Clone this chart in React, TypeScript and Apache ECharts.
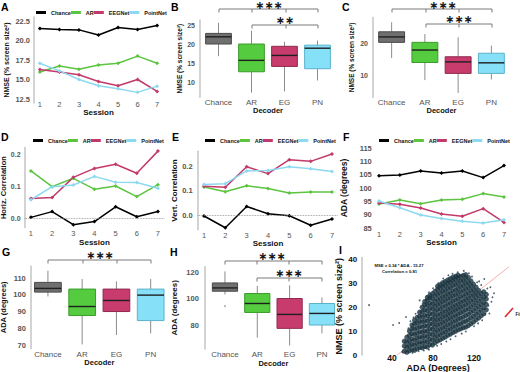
import React, { useEffect, useRef } from 'react';
import * as echarts from 'echarts';

const FF = '"Liberation Sans", Arial, sans-serif';

const sessions = [1, 2, 3, 4, 5, 6, 7];
const methodNames = ['Chance', 'AR', 'EEGNet', 'PointNet'];
const lineColors = ['#000000', '#5cc43f', '#c23a6a', '#8dd9f2'];

const nmseChance = [21.54, 21.4, 21.36, 20.7, 21.67, 21.4, 21.93];
const nmseAR = [15.97, 16.74, 16.31, 16.86, 17.08, 18.0, 17.08];
const nmseEEG = [16.27, 15.97, 15.6, 14.75, 14.2, 15.0, 13.47];
const nmsePN = [17.08, 16.1, 15.0, 14.2, 13.8, 13.35, 14.15];

const hcorrChance = [0.002, 0.02, -0.021, -0.011, 0.035, 0.004, 0.02];
const hcorrAR = [0.147, 0.098, 0.124, 0.09, 0.1, 0.067, 0.104];
const hcorrEEG = [0.061, 0.064, 0.127, 0.155, 0.168, 0.14, 0.209];
const hcorrPN = [0.057, 0.098, 0.103, 0.13, 0.112, 0.111, 0.093];

const vcorrChance = [-0.004, -0.052, 0.035, 0.005, -0.003, -0.042, -0.016];
const vcorrAR = [0.114, 0.095, 0.119, 0.108, 0.09, 0.094, 0.094];
const vcorrEEG = [0.117, 0.113, 0.197, 0.169, 0.226, 0.219, 0.249];
const vcorrPN = [0.124, 0.128, 0.18, 0.182, 0.197, 0.189, 0.178];

const adaChance = [104.6, 104.9, 106.4, 105.6, 106.4, 103.9, 108.4];
const adaAR = [94.0, 95.5, 94.1, 95.5, 95.75, 97.9, 96.6];
const adaEEG = [94.4, 93.9, 92.5, 90.25, 89.4, 92.25, 87.1];
const adaPN = [95.1, 92.6, 89.9, 88.6, 87.5, 86.9, 88.1];

const decoders = ['Chance', 'AR', 'EG', 'PN'];
const boxColors = ['#6f6f6f', '#55cc3f', '#c73c6d', '#86e0f8'];
const boxBorders = ['#4a4a4a', '#3b9b2c', '#8f2a4f', '#5bb2ca'];

// [min, q1, median, q3, max]
const boxB = [[16.8, 20, 21.9, 22.8, 25.6], [7.2, 12.7, 15.7, 20, 23.5], [7.5, 14.1, 17, 19.4, 20.6], [10.4, 13.5, 18.9, 19.7, 20.9]];
const boxC = [[15.3, 20.2, 21.9, 23.5, 26.5], [8.4, 13.9, 17.8, 20.2, 22.8], [4.4, 10.5, 14.1, 15.7, 21.8], [8.6, 10.5, 13.8, 16.8, 19.2]];
const boxG = [[99, 101.6, 103.8, 107.4, 114.4], [70.4, 87.6, 93, 103.4, 109.4], [76, 90, 96.6, 103.4, 108], [77, 84.6, 99.8, 103.4, 109.4]];
const boxH = [[103, 105.5, 108, 111.75, 120.5], [70.5, 89.5, 96.25, 103.75, 109.5], [64.5, 77.5, 88, 100, 110], [73.75, 80, 88.75, 96.25, 100.75]];
const outliersH = [[0, 94.3]];

// Panel I: ADA vs NMSE cloud, rows of [ADA, NMSE values]
const cloudRows: [number, number[]][] = [
  [52, [1.6, 3.8, 5.8]],
  [54.5, [1.2, 3.3, 5.4, 7.5]],
  [57, [1.8, 3.9, 6.0, 8.2, 10.1]],
  [59.5, [2.3, 4.5, 6.7, 8.9, 11.0, 12.6]],
  [62, [2.0, 4.1, 6.3, 8.6, 10.8, 13.0, 14.6]],
  [64.5, [2.6, 4.8, 7.0, 9.2, 11.4, 13.6, 15.8]],
  [67, [3.2, 5.4, 7.6, 9.8, 12.0, 14.2, 16.3, 18.0]],
  [69.5, [3.0, 5.1, 7.3, 9.5, 11.7, 13.9, 16.0, 18.2, 20.1]],
  [72, [3.6, 5.8, 8.0, 10.2, 12.4, 14.5, 16.7, 18.9, 21.0, 22.5]],
  [74.5, [3.4, 5.5, 7.7, 9.9, 12.1, 14.3, 16.4, 18.6, 20.8, 22.9, 24.2]],
  [77, [4.4, 6.6, 8.8, 11.0, 13.2, 15.3, 17.5, 19.7, 21.8, 24.0, 25.2]],
  [79.5, [4.2, 6.3, 8.5, 10.7, 12.9, 15.0, 17.2, 19.4, 21.5, 23.7, 25.8]],
  [82, [5.2, 7.4, 9.6, 11.8, 14.0, 16.1, 18.3, 20.5, 22.6, 24.8, 26.8]],
  [84.5, [5.9, 8.1, 10.3, 12.5, 14.7, 16.8, 19.0, 21.2, 23.3, 25.5, 27.6, 28.9]],
  [87, [6.4, 8.6, 10.8, 13.0, 15.2, 17.3, 19.5, 21.7, 23.8, 26.0, 28.1, 29.6]],
  [89.5, [7.1, 9.3, 11.5, 13.7, 15.9, 18.0, 20.2, 22.4, 24.5, 26.7, 28.8, 30.4]],
  [92, [7.6, 9.8, 12.0, 14.2, 16.4, 18.5, 20.7, 22.9, 25.0, 27.2, 29.3, 30.9]],
  [94.5, [8.3, 10.5, 12.7, 14.9, 17.1, 19.2, 21.4, 23.6, 25.7, 27.9, 30.0, 31.6]],
  [97, [8.8, 11.0, 13.2, 15.4, 17.6, 19.7, 21.9, 24.1, 26.2, 28.4, 30.5, 32.1]],
  [99.5, [9.5, 11.7, 13.9, 16.1, 18.3, 20.4, 22.6, 24.8, 26.9, 29.1, 31.2, 32.7]],
  [102, [10.0, 12.2, 14.4, 16.6, 18.8, 20.9, 23.1, 25.3, 27.4, 29.6, 31.7, 33.1]],
  [104.5, [10.6, 12.8, 15.0, 17.2, 19.4, 21.5, 23.7, 25.9, 28.0, 30.2, 32.3, 33.6]],
  [107, [11.0, 13.2, 15.5, 17.8, 20.0, 22.2, 24.4, 26.6, 28.8, 31.0, 33.0]],
  [109.5, [11.5, 13.8, 16.0, 18.3, 20.5, 22.7, 24.9, 27.1, 29.3, 31.4, 33.5]],
  [112, [11.8, 14.2, 16.6, 18.9, 21.2, 23.4, 25.6, 27.8, 30.0, 32.1, 33.8]],
  [114.5, [12.4, 14.8, 17.2, 19.5, 21.8, 24.0, 26.2, 28.4, 30.5, 32.6]],
  [117, [13.2, 15.6, 18.0, 20.3, 22.6, 24.8, 27.0, 29.1, 31.2]],
  [119.5, [13.9, 16.3, 18.7, 21.0, 23.3, 25.5, 27.6, 29.8]],
  [122, [14.8, 17.2, 19.6, 21.9, 24.2, 26.3, 28.5]],
  [124.5, [15.6, 18.0, 20.4, 22.7, 25.0, 27.2]],
  [127, [16.5, 18.9, 21.3, 23.6, 25.8]],
  [129.5, [17.4, 19.8, 22.1, 24.4, 26.6]],
  [132, [19.0, 21.3, 23.6, 25.5]],
];
const sparsePoints = [
  [17.6, 21], [41, 12.6], [47, 13.5], [53.6, 16], [67, 23], [74, 24.8], [130, 32], [139.5, 26],
  [136, 28.5], [125, 31], [104, 34.8], [95, 33.6], [58, 14.2], [63, 17.4], [70, 21.6], [76, 26.4],
  [85, 30.2], [90, 32.2], [110, 35.4], [118, 33], [127, 29.5], [133, 28], [137, 22.4], [135, 17.5],
  [128, 14.6], [120, 12.1], [112, 9.9], [102, 7.9], [93, 5.7], [84, 3.9], [76, 2.2], [66, 1.6],
  [60, 0.9], [50, 1.2], [56, 11.2], [61, 15.8], [80, 28.1], [99, 34.2], [115, 34.4], [123, 30.6],
  [134, 20.7], [124, 13.3], [108, 9.0], [97, 6.6], [88, 4.6], [71, 1.9], [138, 24.3], [131, 17.2],
];
const fitLine = [[45, 0], [154, 37.1]];

function lineXAxis(gi: number, margin: number, nameGap: number) {
  return {
    type: 'value', gridIndex: gi, min: 0.7, max: 7.3,
    axisLine: { show: false }, axisTick: { show: false }, splitLine: { show: false },
    axisLabel: { customValues: sessions, margin, fontSize: 7.5, color: '#555', fontFamily: FF },
    name: 'Session', nameLocation: 'middle', nameGap, nameMoveOverlap: false,
    nameTextStyle: { fontSize: 8, fontWeight: 'bold', color: '#111', fontFamily: FF },
  };
}

function catXAxis(gi: number, margin: number, nameGap: number) {
  return {
    type: 'category', gridIndex: gi, data: decoders,
    axisLine: { show: false }, axisTick: { show: false }, splitLine: { show: false },
    axisLabel: { margin, fontSize: 8, color: '#555', fontFamily: FF, interval: 0 },
    name: 'Decoder', nameLocation: 'middle', nameGap, nameMoveOverlap: false,
    nameTextStyle: { fontSize: 7.5, fontWeight: 'bold', color: '#111', fontFamily: FF },
  };
}

function valYAxis(gi: number, min: number, max: number, ticks: number[], name: string, nameSize: number,
  nameGap: number, margin: number, digits: number, showLine = true, offset = 0, labelSize = 7.5, labelColor = '#555') {
  return {
    type: 'value', gridIndex: gi, min, max, offset,
    axisLine: { show: showLine, lineStyle: { color: '#c4c4c4', width: 1.5 } },
    axisTick: { show: false }, splitLine: { show: false },
    axisLabel: {
      customValues: ticks, margin, fontSize: labelSize, fontWeight: 'bold', color: labelColor, fontFamily: FF,
      formatter: (v: number) => v.toFixed(digits),
    },
    name, nameLocation: 'middle', nameGap, nameMoveOverlap: false,
    nameTextStyle: { fontSize: nameSize, fontWeight: 'bold', color: '#111', fontFamily: FF },
  };
}

function lineSeries(gi: number, sets: number[][], zeroLine = false) {
  return sets.map((vals, k) => ({
    type: 'line', name: methodNames[k], xAxisIndex: gi, yAxisIndex: gi,
    data: sessions.map((s, i) => [s, vals[i]]),
    symbol: 'diamond', symbolSize: 4, showSymbol: true,
    lineStyle: { width: 1.5, color: lineColors[k] },
    itemStyle: { color: lineColors[k] },
    z: 3,
    markLine: zeroLine && k === 0 ? {
      silent: true, symbol: 'none', label: { show: false },
      lineStyle: { type: 'dotted', color: '#888', width: 0.8 },
      data: [{ yAxis: 0 }],
    } : undefined,
  }));
}

function boxSeries(gi: number, stats: number[][]) {
  return {
    type: 'custom', xAxisIndex: gi, yAxisIndex: gi,
    data: stats.map((s, i) => [i, ...s]),
    encode: { x: 0, y: [1, 2, 3, 4, 5] },
    renderItem: (params: any, api: any) => {
      const c = api.value(0);
      const lo = api.coord([c, api.value(1)]);
      const q1 = api.coord([c, api.value(2)]);
      const md = api.coord([c, api.value(3)]);
      const q3 = api.coord([c, api.value(4)]);
      const hi = api.coord([c, api.value(5)]);
      const bw = api.size([1, 0])[0] * 0.78;
      const i = params.dataIndex;
      const x = q1[0];
      return {
        type: 'group',
        children: [
          { type: 'line', shape: { x1: x, y1: lo[1], x2: x, y2: q1[1] }, style: { stroke: '#8c8c8c', lineWidth: 1 } },
          { type: 'line', shape: { x1: x, y1: q3[1], x2: x, y2: hi[1] }, style: { stroke: '#8c8c8c', lineWidth: 1 } },
          { type: 'rect', shape: { x: x - bw / 2, y: q3[1], width: bw, height: q1[1] - q3[1] }, style: { fill: boxColors[i], stroke: boxBorders[i], lineWidth: 1 } },
          { type: 'line', shape: { x1: x - bw / 2, y1: md[1], x2: x + bw / 2, y2: md[1] }, style: { stroke: '#1f1f1f', lineWidth: 1.4 } },
        ],
      };
    },
  };
}

function bracket(xs: number[], y: number, drop: number) {
  const children: any[] = [
    { type: 'line', shape: { x1: xs[0], y1: y, x2: xs[xs.length - 1], y2: y }, style: { stroke: '#7a7a7a', lineWidth: 1 } },
  ];
  xs.forEach((x) => children.push({ type: 'line', shape: { x1: x, y1: y, x2: x, y2: y + drop }, style: { stroke: '#7a7a7a', lineWidth: 1 } }));
  return { type: 'group', children };
}

function stars(text: string, cx: number, cy: number) {
  return {
    type: 'text', x: cx, y: cy,
    style: { text, fontSize: 11, fontWeight: 'bold', fill: '#1a1a1a', fontFamily: '"DejaVu Sans", sans-serif', textAlign: 'center', textVerticalAlign: 'middle' },
  };
}

function letter(t: string, x: number, y: number) {
  return { type: 'text', x, y, style: { text: t, fontSize: 10.5, fontWeight: 'bold', fill: '#000', fontFamily: FF, textVerticalAlign: 'top' } };
}

function legendAt(left: number, top: number) {
  return {
    left, top, padding: 0, itemGap: 0, itemWidth: 10, itemHeight: 3, icon: 'rect',
    data: methodNames, selectedMode: false,
    textStyle: { fontSize: 5.5, fontWeight: 'bold', color: '#111', fontFamily: FF },
  };
}

export default function App() {
  const ref = useRef<HTMLDivElement>(null);
  useEffect(() => {
    if (!ref.current) return;
    const chart = echarts.init(ref.current, undefined, { renderer: 'svg' });
    const cloud: number[][] = [];
    cloudRows.forEach(([x, ys]) => ys.forEach((y) => cloud.push([x, y])));

    const grids = [
      { left: 34, top: 17.1, width: 129, height: 85.8 },
      { left: 202, top: 20.1, width: 132, height: 77.1 },
      { left: 375, top: 17.4, width: 133, height: 80 },
      { left: 24.6, top: 147.6, width: 139.7, height: 80 },
      { left: 197.6, top: 151.3, width: 140.8, height: 78.4 },
      { left: 372.75, top: 148, width: 137.5, height: 80 },
      { left: 30.8, top: 266.3, width: 137, height: 82.1 },
      { left: 208.8, top: 266.7, width: 129.3, height: 82.2 },
      { left: 361.25, top: 257.6, width: 153.75, height: 97.4 },
    ].map((g) => ({ ...g, containLabel: false, outerBoundsMode: 'none' }));

    const xAxes = [
      lineXAxis(0, -2, 5.5),
      catXAxis(1, 1, 9),
      catXAxis(2, 1, 9),
      lineXAxis(3, 2, 10.5),
      lineXAxis(4, 1.5, 10),
      lineXAxis(5, 2.5, 10.5),
      catXAxis(6, 2.5, 10.5),
      catXAxis(7, 2, 10.5),
      {
        type: 'value', gridIndex: 8, min: 10, max: 160,
        axisLine: { show: false }, axisTick: { show: false }, splitLine: { show: false },
        axisLabel: { customValues: [40, 80, 120], margin: -1.5, fontSize: 8.5, fontWeight: 'bold', color: '#111', fontFamily: FF },
        name: 'ADA (Degrees)', nameLocation: 'middle', nameGap: 8, nameMoveOverlap: false,
        nameTextStyle: { fontSize: 9, fontWeight: 'bold', color: '#111', fontFamily: FF },
      },
    ];

    const yAxes = [
      valYAxis(0, 12, 23, [12.5, 15, 17.5, 20, 22.5], 'NMSE (% screen size²)', 7, 24, 4, 1),
      valYAxis(1, 6, 26.3, [10, 15, 20, 25], 'NMSE (% screen size²)', 6.5, 17, 5, 0, true, 2, 7),
      valYAxis(2, 3, 28, [10, 20], 'NMSE (% screen size²)', 6.5, 18, 5, 0, true, 2, 7),
      valYAxis(3, -0.03, 0.22, [0, 0.1, 0.2], 'Horiz. Correlation', 7.5, 17.6, 4, 1, true, 0, 7),
      valYAxis(4, -0.06, 0.26, [0, 0.1, 0.2], 'Vert. Correlation', 8, 19.6, 5, 1),
      valYAxis(5, 85, 115, [85, 90, 95, 100, 105, 110, 115], 'ADA (degrees)', 8.5, 24.75, 1, 0, false),
      valYAxis(6, 68, 117, [70, 80, 90, 100, 110], 'ADA (degrees)', 7.5, 23, 5, 0),
      valYAxis(7, 62, 124, [80, 100, 120], 'ADA (degrees)', 8, 26.8, 6, 0, true, 4),
      valYAxis(8, 0, 41, [0, 10, 20, 30, 40], 'NMSE (% screen size²)', 9, 17.75, 4, 0, true, 0, 8, '#111'),
    ];

    const series: any[] = [
      ...lineSeries(0, [nmseChance, nmseAR, nmseEEG, nmsePN]),
      boxSeries(1, boxB),
      boxSeries(2, boxC),
      ...lineSeries(3, [hcorrChance, hcorrAR, hcorrEEG, hcorrPN], true),
      ...lineSeries(4, [vcorrChance, vcorrAR, vcorrEEG, vcorrPN], true),
      ...lineSeries(5, [adaChance, adaAR, adaEEG, adaPN]),
      boxSeries(6, boxG),
      boxSeries(7, boxH),
      {
        type: 'scatter', xAxisIndex: 7, yAxisIndex: 7, data: outliersH,
        symbolSize: 2, itemStyle: { color: '#9a9a9a' }, z: 1,
      },
      {
        type: 'line', xAxisIndex: 8, yAxisIndex: 8, data: fitLine, symbol: 'none',
        lineStyle: { color: '#f29a9a', width: 0.8 }, z: 1,
      },
      {
        type: 'scatter', xAxisIndex: 8, yAxisIndex: 8, data: cloud,
        symbolSize: 5.2, itemStyle: { color: '#19333f' }, z: 2,
      },
      {
        type: 'scatter', xAxisIndex: 8, yAxisIndex: 8, data: sparsePoints,
        symbolSize: 1.8, itemStyle: { color: '#1f3b4b' }, z: 2,
      },
    ];

    const S3 = '∗∗∗';
    const S2 = '∗∗';
    const graphic: any[] = [
      letter('A', 1, 1), letter('B', 171, 1), letter('C', 342, 1),
      letter('D', 1, 131), letter('E', 172, 131), letter('F', 343, 131),
      letter('G', 2, 246), letter('H', 170, 246), letter('I', 339, 244),
      bracket([219, 252, 286, 318], 9, 3.5), stars(S3, 269, 5.5),
      bracket([252, 286, 318], 25, 3.5), stars(S2, 285, 20),
      bracket([392, 426, 459, 492], 9, 3.5), stars(S3, 443, 5.5),
      bracket([426, 459, 492], 24, 3.5), stars(S3, 459, 19),
      bracket([48, 83, 117, 151], 260, 3.5), stars(S3, 100, 255.5),
      bracket([225, 257, 289, 322], 261, 3.5), stars(S3, 272, 256.5),
      bracket([257, 289, 322], 278, 3.5), stars(S3, 289, 273),
      {
        type: 'text', x: 399, y: 265.5,
        style: { text: 'MSE = 0.34 * ADA - 15.27', fontSize: 4.2, fontWeight: 'bold', fill: '#111', fontFamily: FF, textAlign: 'center', textVerticalAlign: 'middle' },
      },
      {
        type: 'text', x: 399.5, y: 271.3,
        style: { text: 'Correlation = 0.81', fontSize: 4.2, fontWeight: 'bold', fill: '#111', fontFamily: FF, textAlign: 'center', textVerticalAlign: 'middle' },
      },
      { type: 'line', shape: { x1: 505, y1: 317, x2: 513, y2: 308 }, style: { stroke: '#e3252b', lineWidth: 1.6 } },
      {
        type: 'text', x: 515.5, y: 314,
        style: { text: 'Fit', fontSize: 4.5, fontWeight: 'bold', fill: '#111', fontFamily: FF, textVerticalAlign: 'middle' },
      },
    ];

    chart.setOption({
      animation: false,
      backgroundColor: '#ffffff',
      textStyle: { fontFamily: FF },
      grid: grids,
      xAxis: xAxes,
      yAxis: yAxes,
      legend: [legendAt(36, 9.5), legendAt(33, 137.5), legendAt(205, 137.5), legendAt(379, 137.5)],
      series,
      graphic,
    });
    return () => chart.dispose();
  }, []);
  return <div ref={ref} style={{ position: 'absolute', left: 0, top: 0, width: 520, height: 372 }} />;
}
